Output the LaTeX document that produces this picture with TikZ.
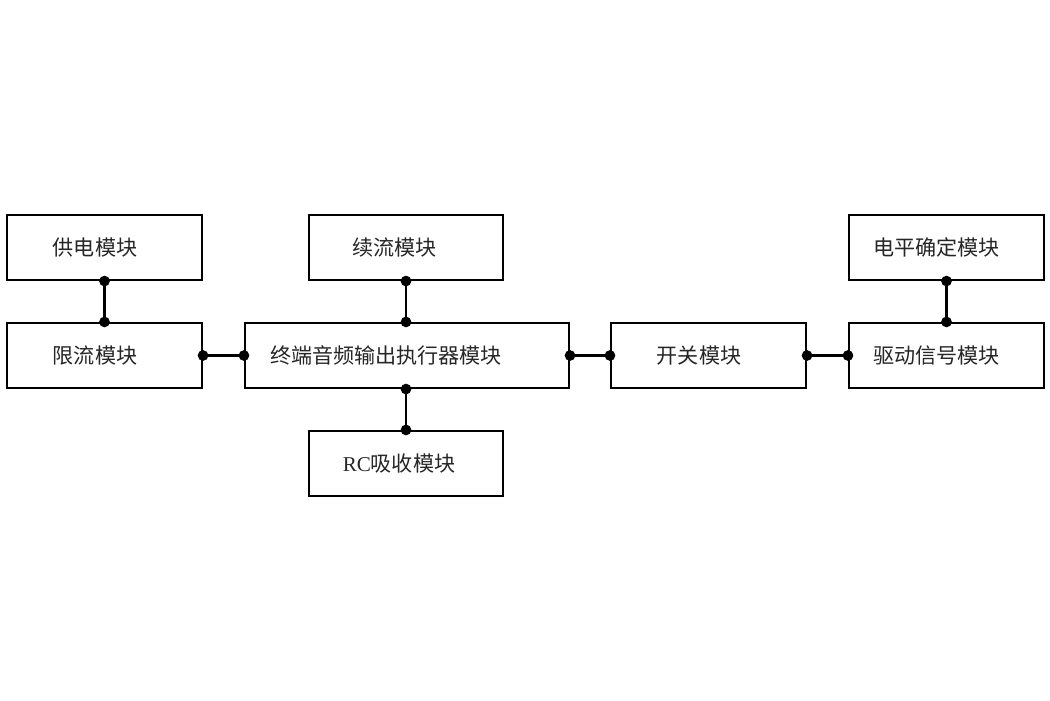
\documentclass[tikz,border=0pt]{standalone}
\usepackage{fontspec}
\setmainfont{Liberation Serif}
\newfontfamily\cjk{Noto Sans CJK SC}
\usetikzlibrary{arrows.meta}
\tikzset{
  box/.style={draw=black, line width=1.2pt, minimum width=3.9cm, minimum height=1.3cm, inner sep=0pt},
  lbl/.style={font=\cjk\fontsize{12}{14}\selectfont, text=black!85},
  conn/.style={draw=black, line width=1.5pt, {Circle[length=0.21cm]}-{Circle[length=0.21cm]}, shorten <=-0.105cm, shorten >=-0.105cm}
}
\begin{document}
\begin{tikzpicture}[x=0.02cm, y=-0.02cm]
\useasboundingbox (0,0) rectangle (1050,700);
\node[box, label={[lbl, xshift=-0.19cm]center:供电模块}] (A) at (104.5,247.5) {};
\node[box, label={[lbl, xshift=-0.19cm]center:限流模块}] (B) at (104.5,355.5) {};
\node[box, minimum width=3.88cm, label={[lbl, xshift=-0.23cm]center:续流模块}] (C) at (406,247.5) {};
\node[box, minimum width=6.48cm, label={[lbl, xshift=-0.42cm]center:终端音频输出执行器模块}] (D) at (407,355.5) {};
\node[box, minimum width=3.88cm, label={[lbl, xshift=-0.14cm]center:{\fontspec{Liberation Serif}RC}吸收模块}] (E) at (406,463.5) {};
\node[box, label={[lbl, xshift=-0.19cm]center:开关模块}] (F) at (708.5,355.5) {};
\node[box, label={[lbl, xshift=-0.2cm]center:电平确定模块}] (G) at (946.5,247.5) {};
\node[box, label={[lbl, xshift=-0.2cm]center:驱动信号模块}] (H) at (946.5,355.5) {};
\draw[conn] (A.south) -- (B.north);
\draw[conn] (C.south) -- (C.south |- D.north);
\draw[conn] (E.north |- D.south) -- (E.north);
\draw[conn] (G.south) -- (H.north);
\draw[conn] (B.east) -- (D.west);
\draw[conn] (D.east) -- (F.west);
\draw[conn] (F.east) -- (H.west);
\end{tikzpicture}
\end{document}
